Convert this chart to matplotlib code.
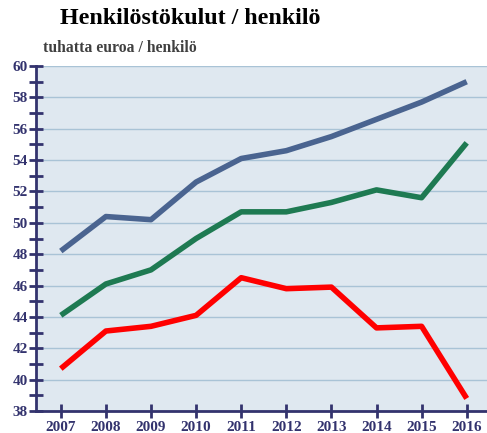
import matplotlib
matplotlib.use("Agg")
import matplotlib.pyplot as plt
from matplotlib.ticker import MultipleLocator

years = [2007, 2008, 2009, 2010, 2011, 2012, 2013, 2014, 2015, 2016]
blue = [48.2, 50.4, 50.2, 52.6, 54.1, 54.6, 55.5, 56.6, 57.7, 59.0]
green = [44.1, 46.1, 47.0, 49.0, 50.7, 50.7, 51.3, 52.1, 51.6, 55.1]
red = [40.7, 43.1, 43.4, 44.1, 46.5, 45.8, 45.9, 43.3, 43.4, 38.8]

navy = "#33336e"
fig = plt.figure(figsize=(4.87, 4.33), dpi=100)
ax = fig.add_axes([36/487, 1-411/433, 1-36/487, 345/433])
ax.set_facecolor("#dfe8f0")
ax.set_xlim(2006.45, 2016.45)
ax.set_ylim(38, 60)
ax.yaxis.set_major_locator(MultipleLocator(2))
ax.yaxis.set_minor_locator(MultipleLocator(1))
ax.set_xticks(years)
ax.grid(axis="y", which="major", color="#a9c3d6", lw=1)
ax.set_axisbelow(True)

ax.plot(years, blue, color="#4a6490", lw=4, solid_capstyle="butt")
ax.plot(years, green, color="#1e7a52", lw=4, solid_capstyle="butt")
ax.plot(years, red, color="#ff0000", lw=4, solid_capstyle="butt")

for s in ["top", "right"]:
    ax.spines[s].set_visible(False)
for s in ["left", "bottom"]:
    ax.spines[s].set_color(navy)
    ax.spines[s].set_linewidth(2)
ax.tick_params(axis="both", which="both", direction="inout", color=navy, width=2,
               labelcolor=navy)
ax.tick_params(axis="y", which="major", length=10, pad=1)
ax.tick_params(axis="y", which="minor", length=10)
ax.tick_params(axis="x", which="major", length=10, pad=2)
for lab in ax.get_xticklabels() + ax.get_yticklabels():
    lab.set_fontfamily("Liberation Serif")
    lab.set_fontweight("bold")
    lab.set_fontsize(11)

fig.text(190/487, 1-18/433, "Henkilöstökulut / henkilö", ha="center", va="center",
         fontsize=17.3, fontweight="bold", family="Liberation Serif", color="black")
fig.text(43/487, 1-48/433, "tuhatta euroa / henkilö", ha="left", va="center",
         fontsize=11.3, fontweight="bold", family="Liberation Serif", color="#404040")

fig.savefig("out.png", dpi=100)
